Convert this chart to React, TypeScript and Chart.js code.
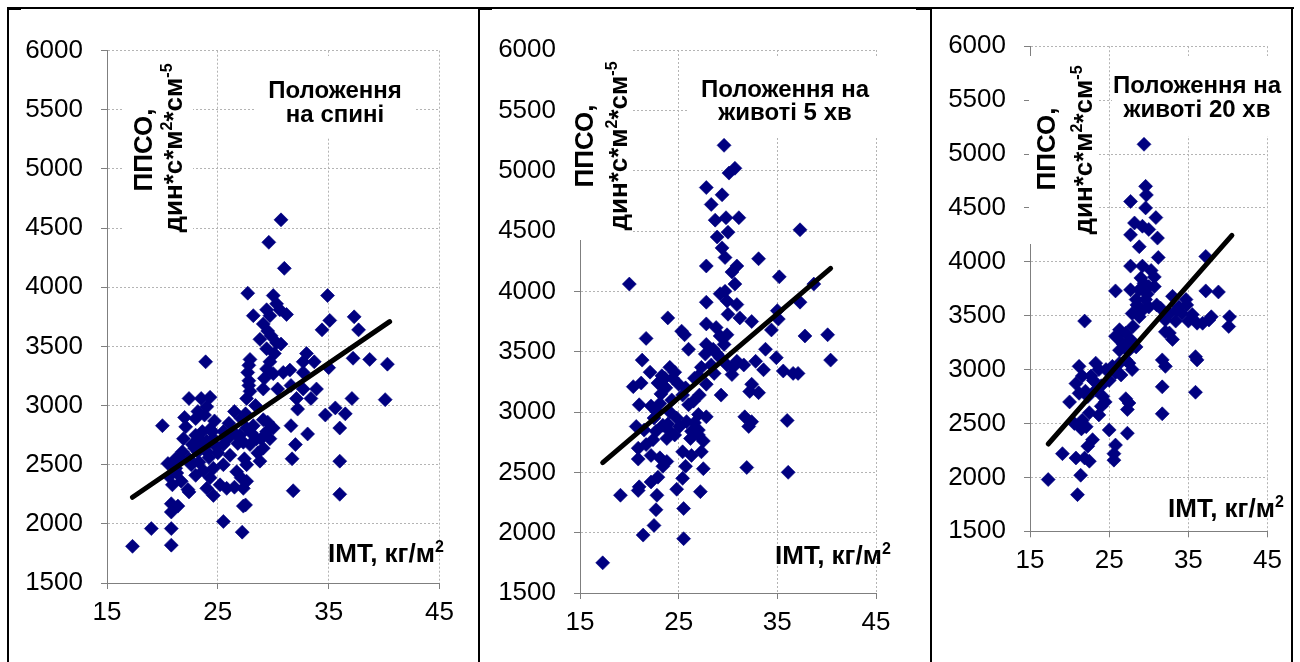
import React, { useEffect, useRef } from "react";
import { Chart, registerables } from "chart.js";

Chart.register(...registerables);

type Pt = [number, number];
type Seg = { t: string; sup?: boolean };

// ---- axis ticks ----
const bmiTicks = [15, 25, 35, 45];
const ppsoTicks = [1500, 2000, 2500, 3000, 3500, 4000, 4500, 5000, 5500, 6000];

// ---- texts ----
const titleSupine = ["Положення", "на спині"];
const titleProne5 = ["Положення на", "животі 5 хв"];
const titleProne20 = ["Положення на", "животі 20 хв"];
const yTitleLine1: Seg[] = [{ t: "ППСО," }];
const yTitleLine2: Seg[] = [{ t: "дин*с*м" }, { t: "2", sup: true }, { t: "*см" }, { t: "-5", sup: true }];
const xTitle: Seg[] = [{ t: "ІМТ, кг/м" }, { t: "2", sup: true }];

// ---- supine position: [BMI, PPSO] ----
const supinePoints: Pt[] = [
  [30.7, 4570], [29.6, 4380], [31.0, 4160], [27.7, 3950], [30.0, 3930], [34.9, 3930], [28.2, 3760], [31.2, 3770],
  [35.1, 3720], [37.3, 3750], [34.4, 3640], [37.7, 3640], [23.9, 3370], [37.2, 3400], [38.7, 3390], [40.3, 3350],
  [35.0, 3320], [37.1, 3060], [40.1, 3050], [20.0, 2830], [31.6, 2830], [34.7, 2920], [35.6, 2980], [36.5, 2930],
  [36.0, 2810], [33.1, 2760], [32.0, 2670], [31.7, 2550], [36.0, 2530], [31.8, 2280], [36.0, 2250], [20.8, 2170],
  [21.4, 2150], [20.8, 2100], [19.0, 1960], [20.8, 1960], [17.3, 1810], [20.8, 1820], [25.5, 2020], [27.2, 1930],
  [27.3, 2150], [27.5, 2160], [28.6, 2600], [27.3, 2300],
  [27.9, 3390], [27.8, 3340], [27.7, 3280], [27.8, 3210], [27.8, 3170], [27.6, 3060], [27.9, 3120],
  [29.4, 3810], [29.7, 3760], [30.3, 3860], [30.6, 3810], [29.1, 3690], [29.5, 3630], [29.8, 3590], [28.8, 3560],
  [30.3, 3530], [30.7, 3520], [29.4, 3480], [30.1, 3440], [29.7, 3370], [29.4, 3310], [29.2, 3230], [30.0, 3270],
  [29.1, 3140], [30.4, 3140], [30.9, 3280], [31.5, 3300], [32.7, 3280], [33.0, 3440], [32.7, 3370], [33.7, 3370],
  [31.6, 3170], [32.1, 3060], [32.7, 3140], [33.4, 3060], [33.9, 3140], [32.2, 2970],
  [22.4, 3060], [23.5, 3060], [24.3, 3070], [22.1, 2820], [23.0, 2890], [23.8, 2920], [24.3, 2800], [23.6, 2780],
  [24.6, 2720], [22.7, 2670], [21.8, 2610], [20.5, 2510], [21.2, 2470], [22.4, 2550], [23.2, 2610], [24.0, 2610],
  [24.9, 2650], [25.5, 2670], [25.9, 2720], [26.5, 2950], [27.1, 2890], [27.6, 2810], [28.2, 2830], [29.1, 2880],
  [29.4, 2780], [30.0, 2810], [28.5, 2720], [27.9, 2670], [27.3, 2690], [26.7, 2750], [26.1, 2580], [25.5, 2500],
  [25.2, 2330], [24.3, 2390], [24.6, 2470], [24.0, 2300], [23.0, 2410], [22.4, 2270], [21.7, 2360], [20.9, 2330],
  [25.8, 2300], [26.7, 2440], [27.6, 2500], [27.1, 2390], [27.6, 2360], [29.1, 2640], [29.7, 2720], [28.8, 2530],
  [27.4, 2550], [21.2, 2550],
  [23.0, 2750], [23.5, 2700], [24.0, 2700], [24.5, 2780], [23.8, 2650], [22.9, 2640], [24.2, 2560], [23.3, 2520],
  [22.6, 2500], [25.0, 2600], [24.7, 2870], [23.2, 2950], [22.0, 2900], [24.0, 2990], [21.5, 2560], [25.5, 2780],
  [26.2, 2760], [26.8, 2680], [27.0, 2750], [28.0, 2770], [28.9, 2720], [29.5, 2860], [27.5, 2930], [28.4, 3000],
  [26.0, 2850], [21.9, 2720], [20.6, 2400], [21.3, 2430], [26.5, 2310], [24.6, 2240], [23.7, 2450], [22.3, 2290],
];
const supineTrend: Pt[] = [[17.3, 2225], [40.5, 3710]];

// ---- prone position, 5 min ----
const prone5Points: Pt[] = [
  [29.6, 5210], [30.7, 5020], [30.1, 4980], [27.8, 4860], [29.4, 4800], [28.3, 4720], [28.7, 4590], [29.8, 4610],
  [31.1, 4610], [30.0, 4490], [28.9, 4450], [37.3, 4510], [29.4, 4360], [29.7, 4280], [27.8, 4210], [33.1, 4270],
  [30.9, 4210], [30.4, 4160], [35.2, 4120], [20.0, 4060], [38.7, 4060], [30.7, 4060], [29.7, 4000], [29.9, 3920],
  [29.2, 3980], [27.8, 3910], [37.3, 3910], [30.9, 3890], [30.0, 3810], [35.0, 3840], [35.1, 3770], [31.2, 3780],
  [32.4, 3750], [23.9, 3780], [27.8, 3730], [28.8, 3700], [29.9, 3640], [29.2, 3630], [34.4, 3680], [25.3, 3670],
  [25.6, 3640], [21.7, 3610], [37.8, 3630], [40.1, 3640], [26.0, 3520], [27.8, 3560], [28.5, 3520], [27.7, 3480],
  [29.2, 3450], [28.3, 3390], [27.3, 3370], [29.9, 3390], [30.5, 3370], [30.4, 3310], [21.3, 3430], [22.1, 3330],
  [24.1, 3370], [23.6, 3280], [24.4, 3280], [22.9, 3240], [25.0, 3230], [23.7, 3200], [33.8, 3520], [31.6, 3390],
  [32.8, 3420], [33.6, 3350], [34.9, 3450], [35.6, 3340], [36.6, 3320], [37.1, 3320], [40.4, 3430], [20.4, 3210],
  [21.2, 3240], [26.6, 3280], [32.4, 3230], [33.1, 3160], [32.2, 3170], [29.3, 3140], [27.8, 3230], [27.1, 3140],
  [26.5, 3090], [25.4, 3140], [26.0, 3060], [21.0, 3060], [22.2, 3050], [23.1, 3070], [24.1, 3000], [24.8, 2950],
  [27.0, 2980], [27.8, 2960], [26.6, 2910], [31.7, 2960], [32.1, 2880], [32.4, 2920], [36.0, 2930], [20.7, 2880],
  [21.5, 2850], [22.7, 2840], [23.4, 2890], [24.1, 2840], [23.8, 2780], [24.6, 2810], [25.1, 2880], [25.8, 2920],
  [26.3, 2840], [27.0, 2850], [27.0, 2810], [20.9, 2700], [21.7, 2730], [22.4, 2770], [27.5, 2760], [27.3, 2670],
  [25.4, 2670], [26.3, 2640], [20.9, 2610], [22.2, 2640], [23.1, 2620], [23.4, 2550], [23.8, 2590], [25.7, 2550],
  [27.5, 2530], [31.9, 2540], [36.1, 2500], [25.4, 2450], [22.2, 2420], [22.9, 2460], [19.1, 2310], [20.9, 2350],
  [21.0, 2380], [22.8, 2310], [24.8, 2360], [27.2, 2340], [25.5, 2200], [22.7, 2190], [22.5, 2060], [21.4, 1980],
  [25.5, 1950], [17.3, 1750],
  [23.2, 3150], [24.3, 3100], [22.5, 2950], [23.9, 2900], [25.7, 3200], [28.9, 3480], [28.6, 3320], [29.6, 3560],
  [24.6, 3330], [23.3, 3300], [22.8, 3000], [27.0, 3300], [30.9, 3420], [26.2, 2780],
];
const prone5Trend: Pt[] = [[17.3, 2580], [40.4, 4190]];

// ---- prone position, 20 min ----
const prone20Points: Pt[] = [
  [29.4, 5090], [29.6, 4700], [29.7, 4620], [27.7, 4560], [29.6, 4500], [30.9, 4410], [28.2, 4360], [29.2, 4330],
  [30.0, 4300], [31.1, 4220], [27.7, 4250], [28.8, 4140], [31.2, 4040], [37.2, 4050], [27.7, 3960], [29.2, 3960],
  [30.3, 3920], [30.7, 3860], [29.4, 3800], [30.0, 3770], [28.8, 3740], [27.7, 3740], [30.7, 3770], [25.8, 3730],
  [37.2, 3730], [38.8, 3720], [28.4, 3650], [29.6, 3650], [29.2, 3550], [27.9, 3520], [28.8, 3490], [30.0, 3580],
  [31.5, 3570], [33.0, 3680], [34.7, 3650], [33.8, 3580], [32.6, 3520], [34.2, 3520], [35.5, 3510], [32.1, 3460],
  [33.4, 3450], [35.0, 3450], [36.1, 3430], [36.8, 3430], [37.6, 3460], [37.9, 3490], [40.2, 3490], [40.1, 3400],
  [21.9, 3450], [32.1, 3350], [32.6, 3340], [26.3, 3370], [27.1, 3340], [25.8, 3310], [27.7, 3280], [26.7, 3240],
  [27.5, 3180], [28.4, 3210], [26.3, 3180], [33.0, 3280], [27.5, 3060], [27.1, 3090], [27.9, 3000], [26.3, 3060],
  [25.4, 3030], [24.6, 3000], [25.8, 2970], [25.0, 2900], [23.3, 3060], [23.7, 3000], [22.7, 2940], [21.2, 3030],
  [21.6, 2940], [20.8, 2870], [23.3, 2810], [24.2, 2750], [22.3, 2750], [21.2, 2780], [20.0, 2700], [31.7, 3090],
  [32.1, 3030], [35.9, 3120], [36.1, 3090], [27.1, 2730], [27.5, 2690], [27.3, 2630], [31.7, 2840], [35.9, 2790],
  [31.7, 2590], [24.0, 2660], [23.7, 2580], [21.6, 2530], [20.6, 2500], [22.1, 2470], [25.0, 2440], [27.3, 2410],
  [22.9, 2350], [22.3, 2290], [25.8, 2300], [25.6, 2220], [25.6, 2160], [19.1, 2220], [20.8, 2180], [21.9, 2180],
  [22.5, 2150], [21.4, 2020], [17.3, 1980], [21.0, 1840],
  [26.0, 3300], [27.0, 3200], [28.0, 3400], [29.0, 3850], [29.8, 3700], [24.0, 2850], [23.0, 2900], [22.0, 2800],
  [26.5, 2950], [28.5, 3600], [31.0, 3600], [33.5, 3550], [34.8, 3600], [24.5, 2700], [21.5, 2450], [22.5, 2600],
];
const prone20Trend: Pt[] = [[17.3, 2310], [40.5, 4245]];

// ---- layout of the three panels (page pixels) ----
type Box = [number, number, number, number];
interface PanelCfg {
  points: Pt[];
  trend: Pt[];
  title: string[];
  left: number;
  top: number;
  width: number;
  height: number;
  yAxisWidth: number;
  xAxisHeight: number;
  padTop: number;
  padRight: number;
  titleX: number;
  titleBaselines: number[];
  yTitle: { x1: number; y1: number; x2: number; y2: number };
  xTitlePos: [number, number];
  masks: Box[];
}

const panels: PanelCfg[] = [
  {
    points: supinePoints, trend: supineTrend, title: titleSupine,
    left: 10, top: 10, width: 466, height: 640,
    yAxisWidth: 97, xAxisHeight: 67, padTop: 40.7, padRight: 36.5,
    titleX: 335, titleBaselines: [98, 122],
    yTitle: { x1: 152, y1: 150, x2: 182, y2: 148 },
    xTitlePos: [328, 562],
    masks: [[122, 56, 193, 250], [255, 56, 415, 138]],
  },
  {
    points: prone5Points, trend: prone5Trend, title: titleProne5,
    left: 482, top: 10, width: 446, height: 640,
    yAxisWidth: 98, xAxisHeight: 57, padTop: 40, padRight: 52,
    titleX: 785, titleBaselines: [97, 120],
    yTitle: { x1: 593, y1: 146, x2: 627, y2: 146 },
    xTitlePos: [775, 564],
    masks: [[568, 40, 632, 240], [688, 56, 882, 138]],
  },
  {
    points: prone20Points, trend: prone20Trend, title: titleProne20,
    left: 934, top: 10, width: 356, height: 640,
    yAxisWidth: 96, xAxisHeight: 118.7, padTop: 36.2, padRight: 21,
    titleX: 1197, titleBaselines: [93, 117],
    yTitle: { x1: 1055, y1: 149, x2: 1092, y2: 150 },
    xTitlePos: [1168, 517],
    masks: [[1029, 56, 1097, 244], [1112, 56, 1290, 136]],
  },
];

const FONT = '"Liberation Sans", Arial, sans-serif';

function drawRich(ctx: CanvasRenderingContext2D, segs: Seg[], x: number, y: number, size: number, align: "left" | "center") {
  const base = `bold ${size}px ${FONT}`;
  const small = `bold ${Math.round(size * 0.62)}px ${FONT}`;
  const widths = segs.map((s) => {
    ctx.font = s.sup ? small : base;
    return ctx.measureText(s.t).width;
  });
  const total = widths.reduce((a, b) => a + b, 0);
  let cx = align === "center" ? x - total / 2 : x;
  ctx.textAlign = "left";
  ctx.textBaseline = "alphabetic";
  segs.forEach((s, i) => {
    ctx.font = s.sup ? small : base;
    ctx.fillText(s.t, cx, s.sup ? y - size * 0.4 : y);
    cx += widths[i];
  });
}

function drawVertical(ctx: CanvasRenderingContext2D, segs: Seg[], bx: number, cy: number, size: number) {
  ctx.save();
  ctx.translate(bx, cy);
  ctx.rotate(-Math.PI / 2);
  drawRich(ctx, segs, 0, 0, size, "center");
  ctx.restore();
}

function makeTextPlugin(cfg: PanelCfg) {
  return {
    id: "panelText",
    beforeDatasetsDraw(chart: Chart) {
      const ctx = chart.ctx;
      const ox = cfg.left;
      const oy = cfg.top;
      ctx.save();
      ctx.fillStyle = "#ffffff";
      cfg.masks.forEach(([x0, y0, x1, y1]) => ctx.fillRect(x0 - ox, y0 - oy, x1 - x0, y1 - y0));
      ctx.fillStyle = "#000000";
      cfg.title.forEach((line, i) => {
        drawRich(ctx, [{ t: line }], cfg.titleX - ox, cfg.titleBaselines[i] - oy, 24, "center");
      });
      drawVertical(ctx, yTitleLine1, cfg.yTitle.x1 - ox, cfg.yTitle.y1 - oy, 26);
      drawVertical(ctx, yTitleLine2, cfg.yTitle.x2 - ox, cfg.yTitle.y2 - oy, 26);
      drawRich(ctx, xTitle, cfg.xTitlePos[0] - ox, cfg.xTitlePos[1] - oy, 26, "left");
      ctx.restore();
    },
  };
}

function Panel({ cfg }: { cfg: PanelCfg }) {
  const ref = useRef<HTMLCanvasElement>(null);
  useEffect(() => {
    if (!ref.current) return;
    const gridColor = "#b4b4b4";
    const axisColor = "#7f7f7f";
    const chart = new Chart(ref.current, {
      type: "scatter",
      data: {
        datasets: [
          {
            data: cfg.trend.map(([x, y]) => ({ x, y })),
            showLine: true,
            borderColor: "#000000",
            borderWidth: 5,
            borderCapStyle: "round",
            pointRadius: 0,
            order: 0,
          },
          {
            data: cfg.points.map(([x, y]) => ({ x, y })),
            pointStyle: "rectRot",
            pointRadius: 7,
            pointBorderWidth: 0.6,
            backgroundColor: "#000080",
            borderColor: "#000080",
            order: 1,
          },
        ],
      },
      options: {
        animation: false,
        responsive: false,
        maintainAspectRatio: false,
        events: [],
        layout: { padding: { left: 0, top: cfg.padTop, right: cfg.padRight, bottom: 0 } },
        plugins: { legend: { display: false }, tooltip: { enabled: false } },
        scales: {
          x: {
            type: "linear",
            position: "bottom",
            min: bmiTicks[0],
            max: bmiTicks[bmiTicks.length - 1],
            afterBuildTicks: (s: any) => {
              s.ticks = bmiTicks.map((v) => ({ value: v }));
            },
            afterFit: (s: any) => {
              s.height = cfg.xAxisHeight;
            },
            grid: { color: gridColor, lineWidth: 1, drawTicks: true, tickLength: 6, tickColor: axisColor, tickWidth: 1 },
            border: { color: axisColor, width: 1, dash: [2, 2] },
            ticks: { color: "#000", font: { family: FONT, size: 26 }, padding: 8, maxRotation: 0, autoSkip: false, callback: (v: any) => String(v) },
          },
          y: {
            type: "linear",
            min: ppsoTicks[0],
            max: ppsoTicks[ppsoTicks.length - 1],
            afterBuildTicks: (s: any) => {
              s.ticks = ppsoTicks.map((v) => ({ value: v }));
            },
            afterFit: (s: any) => {
              s.width = cfg.yAxisWidth;
            },
            grid: { color: gridColor, lineWidth: 1, drawTicks: true, tickLength: 6, tickColor: axisColor, tickWidth: 1 },
            border: { color: axisColor, width: 1, dash: [2, 2] },
            ticks: { color: "#000", font: { family: FONT, size: 26 }, padding: 18, autoSkip: false, callback: (v: any) => String(v) },
          },
        },
      },
      plugins: [makeTextPlugin(cfg)],
    } as any);
    return () => chart.destroy();
  }, [cfg]);
  return (
    <canvas
      ref={ref}
      width={cfg.width}
      height={cfg.height}
      style={{ position: "absolute", left: cfg.left, top: cfg.top, width: cfg.width, height: cfg.height }}
    />
  );
}

const line = (left: number, top: number, width: number, height: number) => (
  <div style={{ position: "absolute", left, top, width, height, background: "#000", zIndex: 2 }} />
);

export default function App() {
  return (
    <div style={{ position: "absolute", left: 0, top: 0, width: 1300, height: 662, background: "#fff", overflow: "hidden" }}>
      {panels.map((p, i) => (
        <Panel key={i} cfg={p} />
      ))}
      {line(7, 7, 1287, 2)}
      {line(7, 7, 2, 655)}
      {line(478, 7, 2, 655)}
      {line(930, 7, 2, 655)}
      {line(1291, 7, 2, 655)}
      {line(7, 7, 14, 3)}
      {line(478, 7, 14, 3)}
      {line(916, 7, 16, 3)}
    </div>
  );
}
